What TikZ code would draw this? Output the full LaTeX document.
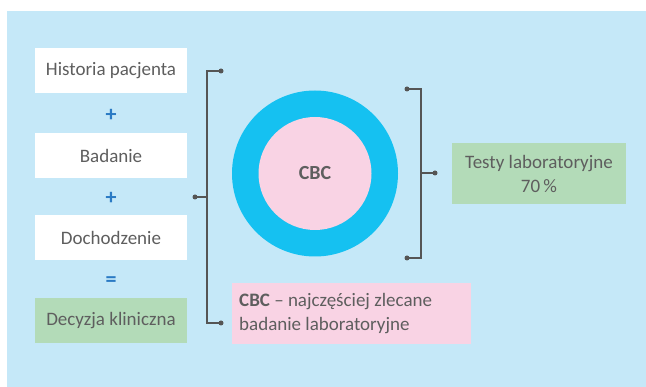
\documentclass[tikz,border=0pt]{standalone}
\usepackage{fontspec}
\setmainfont{Carlito}
\definecolor{bgblue}{HTML}{C5E8F8}
\definecolor{ring}{HTML}{15C1F1}
\definecolor{pinkf}{HTML}{F9D3E4}
\definecolor{greenf}{HTML}{B3DBB8}
\definecolor{txt}{HTML}{5E5E5E}
\definecolor{opblue}{HTML}{2A7AC4}
\definecolor{brk}{HTML}{555555}
\begin{document}
\begin{tikzpicture}[x=1pt,y=-1pt,
  box/.style={inner sep=0pt,minimum width=152pt,minimum height=45pt,text=txt,font=\fontsize{19}{24}\selectfont},
  op/.style={text=opblue,font=\fontsize{22}{22}\selectfont\bfseries,inner sep=0pt},
  brkline/.style={draw=brk,line width=1.4pt},
  dot/.style={circle,fill=brk,inner sep=0pt,minimum size=5pt}]
\useasboundingbox (0,0) rectangle (646,387);
\fill[white] (0,0) rectangle (646,387);
\fill[bgblue] (7,11) rectangle (646,387);
% left column
\node[box,fill=white] (hist) at (111,70.5) {Historia pacjenta};
\node[op] (p1) at (111,115) {+};
\node[op] (p2) at (111,198) {+};
\node[box,fill=white] (bad) at (111,155.5) {Badanie};
\node[box,fill=white] (doch) at (111,238) {Dochodzenie};
\node[op] (eq) at (111,282) {=};
\node[box,fill=greenf] (dec) at (111,321) {Decyzja kliniczna};
% circle
\node[circle,fill=ring,minimum size=166pt,inner sep=0pt] (outer) at (315,173.5) {};
\node[circle,fill=pinkf,minimum size=113pt,inner sep=0pt,text=txt,font=\fontsize{20}{24}\selectfont\bfseries] (cbc) at (315,173.5) {CBC};
% green box
\node[box,fill=greenf,minimum width=174pt,minimum height=61pt,align=center] (tests) at (539,173.5) {Testy laboratoryjne\\70\,\%};
% pink box
\node[box,fill=pinkf,minimum width=239pt,minimum height=61pt,anchor=north west] (note) at (232,283) {};
\node[box,minimum width=0pt,minimum height=0pt,align=left,anchor=west] (notetxt) at ([xshift=7pt]note.west) {\textbf{CBC} – najczęściej zlecane\\badanie laboratoryjne};
% left bracket
\coordinate (lt) at (221,71);
\coordinate (lb) at (221,323);
\coordinate (lm) at (195,197);
\node[dot] (ltd) at (lt) {};
\node[dot] (lbd) at (lb) {};
\node[dot] (lmd) at (lm) {};
\draw[brkline] (ltd.center) -- (207,71) -- (207,323) -- (lbd.center);
\draw[brkline] (207,197) -- (lmd.center);
% right bracket
\coordinate (rt) at (407,89);
\coordinate (rb) at (407,258);
\coordinate (rm) at (435,173);
\node[dot] (rtd) at (rt) {};
\node[dot] (rbd) at (rb) {};
\node[dot] (rmd) at (rm) {};
\draw[brkline] (rtd.center) -- (421,89) -- (421,258) -- (rbd.center);
\draw[brkline] (421,173) -- (rmd.center);
\end{tikzpicture}
\end{document}
